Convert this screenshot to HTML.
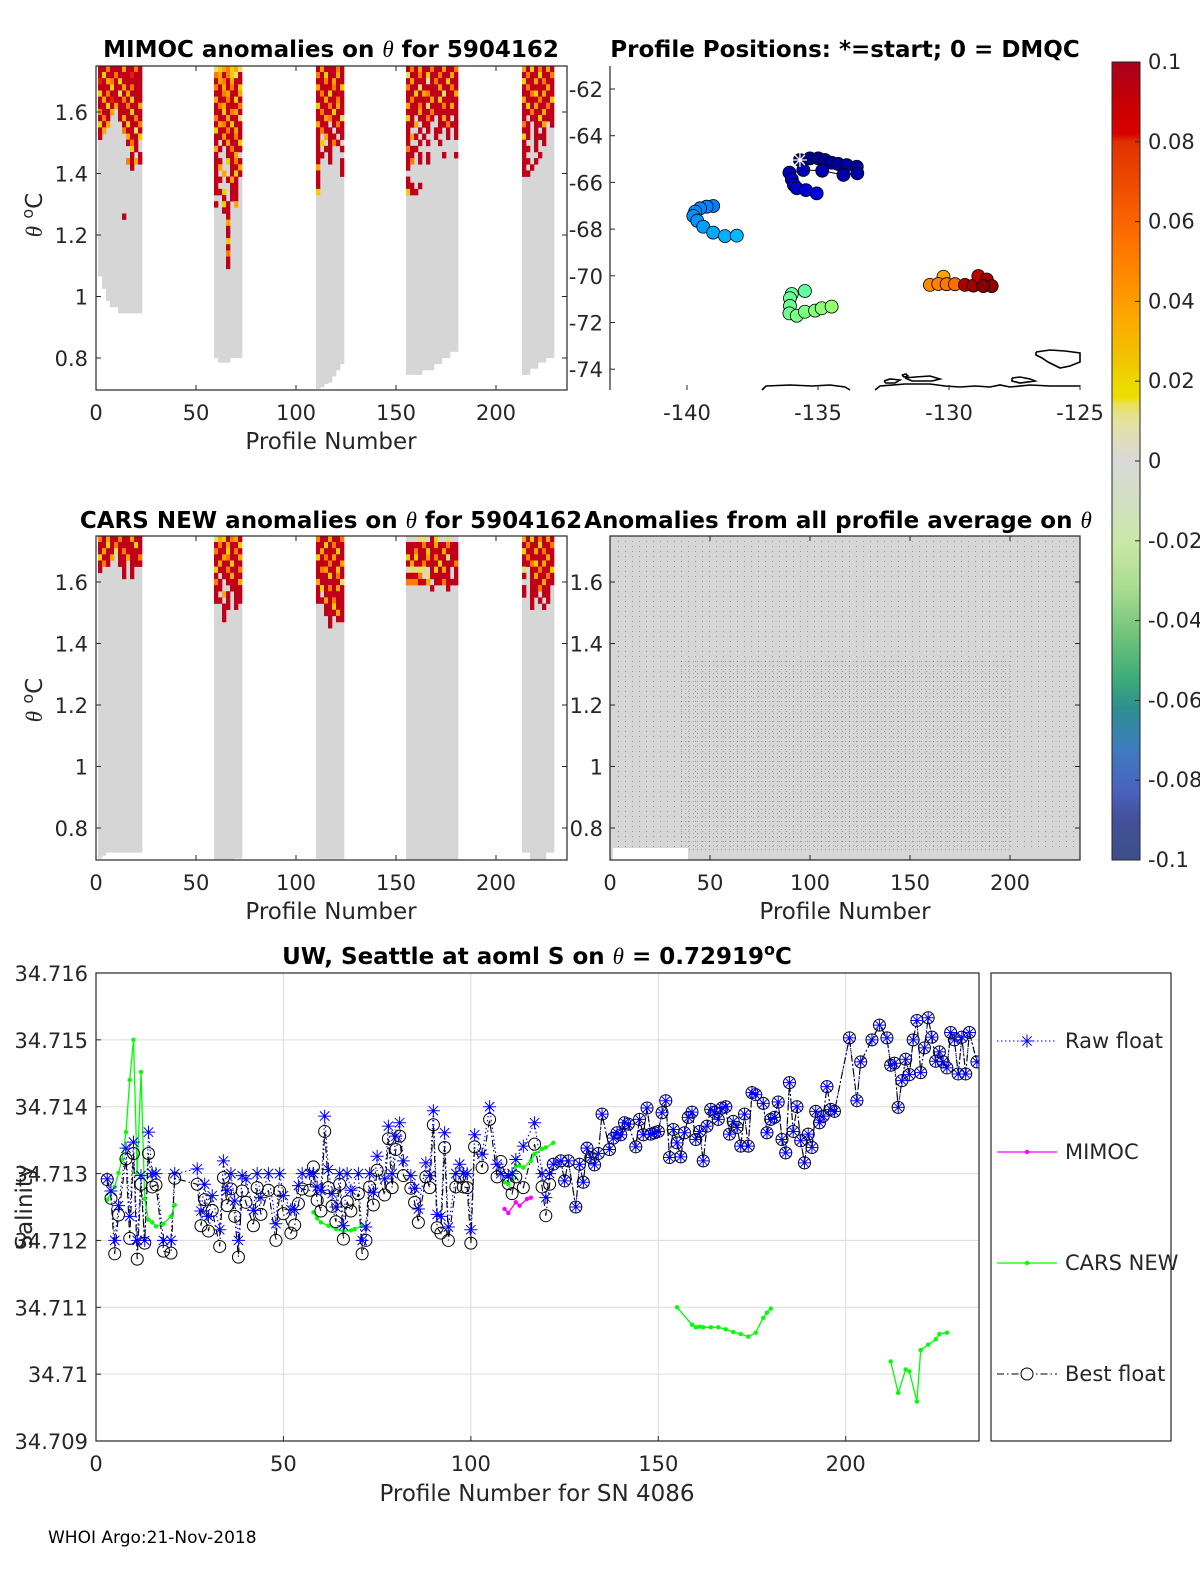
<!DOCTYPE html>
<html><head><meta charset="utf-8"><title>Argo float 5904162 diagnostics</title>
<style>
html,body{margin:0;padding:0;background:#fff;overflow:hidden;}
svg{display:block;font-family:"DejaVu Sans","Liberation Sans",sans-serif;}
.tk{font-size:21px;fill:#262626;}
.ttl{font-size:23px;font-weight:bold;fill:#000;}
.lab{font-size:23px;fill:#262626;}
</style></head>
<body>
<svg id="fig" width="1200" height="1575" viewBox="0 0 1200 1575" xmlns="http://www.w3.org/2000/svg">
<defs>
 <pattern id="dotsSparse" width="7" height="5" patternUnits="userSpaceOnUse"><rect x="2" y="1" width="1" height="1" fill="#000"/></pattern>
 <pattern id="dotsDense" width="4" height="4" patternUnits="userSpaceOnUse"><rect x="1" y="1" width="1" height="1" fill="#000"/></pattern>
 <linearGradient id="cbar" x1="0" y1="0" x2="0" y2="1">
  <stop offset="0" stop-color="#a8001f"/><stop offset="0.06" stop-color="#cc0000"/><stop offset="0.09" stop-color="#d80000"/>
  <stop offset="0.1" stop-color="#e03000"/><stop offset="0.2" stop-color="#fa6400"/><stop offset="0.25" stop-color="#ff8000"/>
  <stop offset="0.32" stop-color="#fca800"/><stop offset="0.38" stop-color="#f0c800"/><stop offset="0.40" stop-color="#ecd800"/>
  <stop offset="0.42" stop-color="#eedd00"/><stop offset="0.43" stop-color="#e8e060"/><stop offset="0.45" stop-color="#e4e2a0"/>
  <stop offset="0.5" stop-color="#d9d9d9"/><stop offset="0.55" stop-color="#d3dfc2"/><stop offset="0.6" stop-color="#cce8a8"/>
  <stop offset="0.66" stop-color="#a8dc90"/><stop offset="0.72" stop-color="#6fc27c"/><stop offset="0.77" stop-color="#3fae78"/>
  <stop offset="0.81" stop-color="#2e8f8f"/><stop offset="0.86" stop-color="#3e7cbf"/><stop offset="0.91" stop-color="#4a63c0"/>
  <stop offset="0.95" stop-color="#44509a"/><stop offset="1" stop-color="#3c5088"/>
 </linearGradient>
 <clipPath id="clipB"><rect x="96" y="973" width="883" height="468"/></clipPath>
</defs>

<text class="ttl" x="331" y="57" text-anchor="middle">MIMOC anomalies on <tspan font-style="italic" font-family="Liberation Serif" font-weight="normal">θ</tspan>  for 5904162</text>
<text class="ttl" x="845" y="57" text-anchor="middle">Profile Positions: *=start; 0 = DMQC</text>
<text class="ttl" x="331" y="528" text-anchor="middle">CARS NEW anomalies on <tspan font-style="italic" font-family="Liberation Serif" font-weight="normal">θ</tspan> for 5904162</text>
<text class="ttl" x="838" y="528" text-anchor="middle">Anomalies from all profile average on <tspan font-style="italic" font-family="Liberation Serif" font-weight="normal">θ</tspan></text>
<text class="ttl" x="537" y="964" text-anchor="middle">UW, Seattle at aoml S on <tspan font-style="italic" font-family="Liberation Serif" font-weight="normal">θ</tspan> = 0.72919<tspan dy="-9" font-size="16">o</tspan><tspan dy="9">C</tspan></text>

<text class="lab" x="331" y="449" text-anchor="middle">Profile Number</text>
<text class="lab" x="331" y="919" text-anchor="middle">Profile Number</text>
<text class="lab" x="845" y="919" text-anchor="middle">Profile Number</text>
<text class="lab" transform="translate(42,215) rotate(-90)" text-anchor="middle"><tspan font-style="italic" font-family="Liberation Serif">θ</tspan> <tspan dy="-9" font-size="16">o</tspan><tspan dy="9">C</tspan></text>
<text class="lab" transform="translate(42,700) rotate(-90)" text-anchor="middle"><tspan font-style="italic" font-family="Liberation Serif">θ</tspan> <tspan dy="-9" font-size="16">o</tspan><tspan dy="9">C</tspan></text>
<text class="lab" transform="translate(553,700) rotate(-90)" text-anchor="middle"><tspan font-style="italic" font-family="Liberation Serif">θ</tspan> <tspan dy="-9" font-size="16">o</tspan><tspan dy="9">C</tspan></text>
<text class="lab" x="537" y="1501" text-anchor="middle">Profile Number for SN 4086</text>
<text class="lab" transform="translate(32,1207) rotate(-90)" text-anchor="middle">Salinity</text>
<text x="48" y="1543" font-size="17" fill="#000">WHOI Argo:21-Nov-2018</text>

<g id="gMimoc"></g>
<g id="gMap"></g>
<g id="gCars"></g>
<g id="gAnom">
 <rect x="610" y="536" width="470" height="324" fill="#d6d6d6"/>
 <rect x="612" y="540" width="466" height="310" fill="url(#dotsSparse)" opacity="0.3"/>
 <rect x="680" y="660" width="330" height="190" fill="url(#dotsDense)" opacity="0.25"/>
 <rect x="613" y="848" width="75" height="12" fill="#fff"/>
</g>
<g id="gCbar">
 <rect x="1112" y="62" width="28" height="798" fill="url(#cbar)" stroke="#262626" stroke-width="1"/>
</g>
<g id="gSal"></g>
<g id="gLeg"></g>
</svg>

<script>
// ===== Heatmap data (θ anomaly cells, one char per 2 profiles, rows of 0.02 °C from 1.75 down) =====
const heatColors = {R:'#c00018', r:'#e02000', o:'#ff7a00', a:'#ffa500', y:'#f0cf00', l:'#e6df70', p:'#e0ddb5'};
const blockStarts = [1, 59, 110, 155, 213];
const mimocBottoms = [
 [1.065,1.025,0.985,0.965,0.965,0.945,0.945,0.945,0.945,0.945,0.945],
 [0.80,0.785,0.785,0.785,0.80,0.80,0.80],
 [0.70,0.705,0.715,0.72,0.74,0.76,0.78],
 [0.745,0.745,0.745,0.745,0.76,0.76,0.76,0.78,0.78,0.80,0.80,0.82,0.82],
 [0.745,0.745,0.765,0.765,0.785,0.785,0.80,0.80]
];
const mimocRows = [
 ["RRoRRRaRRoR","RyRRoRRRrRR","rRaoRyRRRRR","RRRyRRaRoRR","yRoRRlRaRRR","RaRrRRoRyRR","RRyRaRRoRRa","oRRa.RRRyRR","RoR..RaRRoR","yRa...RyRRo","Ra....oRRlR","R......aRRy",".......RoR.","........yR.","........R.R",".......oRaR","........R..","...........","...........","...........","...........","...........","...........","...........","......R...."],
 ["lyaoyal","oaRoylR","RaoRaRR","oRaRoRy","RRoaRRa","aRRoRyR","RoaRRRo","RRyRoaR","oRRaRRl","RaoRyRR","yRRoRaR","RRaRRoR","R.RaRRy","aR.RoRR","R..RRa.","RR.yRoR","Ra..RRa","R.a.RyR","RR.RaR.","R...RR.","RRy.RR.","..R.RR.","R.yR.a.","..RR...","...R...","...a...","...R...","...R...","...y...","...R...","...o...","...R...","...R..."],
 ["RaRRRoR","oRyRRaR","RRoRaRR","aRRRoRy","RoRyRRR","RRaRRoR","yRRoRaR","RoRRyRR","RRaoRRl","aRR.RoR","RoRR.RR","R.aRR.R","Ry.RoR.","R.RR..R","RR.R...","R..R..R","a.....R","R.....R","R......","R......","y......"],
 ["RoRaRRoRRaRRo","lRRoRyRRoRRaR","RaRRRpRoRRyRR","oRRlRRRRaRRoR","RRyRaoRRRlRRa","RoRRRRaRyRRRR","aRRoRlRRRoRaR","RRRaRRoRRRRRR","yR.RRoR.RaR.R","RRa.RR..RRoRR","R..R.R.RR.R.R","RaR.R..R..R.R","R..R.R..R....","oRR..........","RR.R.R...R..R","Ro.R.R.......","R............",".............","R............","RR.R.........","yRR.........."],
 ["aRyRoRaR","RoRRyRRo","yRRaRoRR","RoRRRRaR","RRoyRaRR","aRRRoRRy","RyRaRRoR","RRoRRaRR","R.RRyRRR","oR.RRa.R","RR.R.R..","yR.RRR..","R..R.R..","RR.R....","R...R...","RR.R....","R.R.....","RR......"]
];
const carsBottoms = [
 [0.70,0.71,0.72,0.72,0.72,0.72,0.72,0.72,0.72,0.72,0.72],
 [0.696,0.696,0.696,0.696,0.696,0.70,0.70],
 [0.70,0.70,0.70,0.70,0.70,0.70,0.70],
 [0.696,0.696,0.696,0.696,0.696,0.696,0.696,0.696,0.696,0.696,0.696,0.696,0.696],
 [0.72,0.72,0.696,0.696,0.696,0.696,0.72,0.72]
];
const carsRows = [
 ["oRaRRoRRaRR","RRyRoRRRRyR","RaRRlRoRRRR","yRRa.RRaRRo","RoR..RR.RRR","R.....R.R..","......R.R.."],
 ["layRoaR","RoRaRRy","oRRyRoR","RRaoRRa","RaRRyRR","yRRoRRo","R.RRaRR","oR.RRRa","RR..RRR","R.aR.RR","RR.R.RR","..RR.R.","..R....","..R...."],
 ["oRRaRRo","RRyRoRR","RaRRRyR","yRoRaRR","RRRoRRa","RoaRRyR","RRRyRoR","aRRRRRl","RyRoRaR","R.RRRRR","RRaRoRR","..RRyRR","..RRRaR","...R.RR","...R..."],
 ["...ll.Ry..l..","RRRRoRRaRRoRR","RRoRRyRRRaRRR","yRyRRaRoRRlRR","RaRRoRRRyRRRo","pllll.RyRaR.R","RRRo.lRRRRR.R","oooRRa.RRoRRR","......R...R.."],
 ["aRyRoRaR","RoRRyRRo","yRRaRoRR","RoRRRRaR","RRoyRaRR","l.RRoRRy","R.RaRRoR","..RRRaRR","R.RRoRR.","R.RR.RR.","..R.R.R.","..R..R.."]
];
const thetaTicks = [0.8, 1, 1.2, 1.4, 1.6];
const thetaTickLabels = ["0.8", "1", "1.2", "1.4", "1.6"];
const profileTicks = [0, 50, 100, 150, 200];
const profileTickLabels = ["0", "50", "100", "150", "200"];

// ===== Map data =====
const mapLon = [-135.69,-135.31,-134.99,-134.73,-134.48,-134.23,-133.90,-133.52,-133.50,-134.03,-134.84,-135.56,-136.09,-136.00,-135.92,-135.81,-135.46,-135.05,
 -139.00,-139.25,-139.50,-139.69,-139.76,-139.61,-139.38,-139.00,-138.55,-138.10,
 -135.50,-136.00,-136.07,-136.07,-136.09,-135.81,-135.50,-135.11,-134.86,-134.48,
 -130.21,-130.73,-130.41,-130.09,-129.77,-129.39,-129.07,
 -128.88,-128.56,-128.37,-128.69];
const mapLat = [-65.04,-64.97,-64.97,-65.04,-65.16,-65.21,-65.26,-65.33,-65.61,-65.68,-65.50,-65.47,-65.58,-65.87,-66.11,-66.25,-66.33,-66.47,
 -67.01,-67.04,-67.11,-67.25,-67.44,-67.64,-67.90,-68.15,-68.30,-68.28,
 -70.65,-70.78,-70.96,-71.29,-71.61,-71.71,-71.54,-71.49,-71.39,-71.32,
 -70.04,-70.39,-70.35,-70.36,-70.36,-70.39,-70.42,
 -70.01,-70.16,-70.44,-70.44];
const mapProf = [1,2,3,4,5,6,7,8,9,10,11,12,14,15,16,18,20,22,
 59,60,61,62,63,64,66,68,70,72,
 110,111,112,113,114,116,117,119,120,122,
 168,174,176,178,180,224,228,
 220,226,230,234];
const mapGroups = [18, 10, 10, 7, 4];
const lonTicks = [-140, -135, -130, -125];
const lonTickLabels = ["-140", "-135", "-130", "-125"];
const latTicks = [-62, -64, -66, -68, -70, -72, -74];
const latTickLabels = ["-62", "-64", "-66", "-68", "-70", "-72", "-74"];

// ===== Colorbar ticks =====
const cbTicks = [0.1, 0.08, 0.06, 0.04, 0.02, 0, -0.02, -0.04, -0.06, -0.08, -0.1];
const cbTickLabels = ["0.1", "0.08", "0.06", "0.04", "0.02", "0", "-0.02", "-0.04", "-0.06", "-0.08", "-0.1"];

// ===== Salinity panel data =====
const earlyProf = [3,4,5,6,8,9,10,11,12,13,14,15,16,18,20,21,27,28,29,30,31,33,34,35,36,37,38,39,40,42,43,44,46,48,49,50,52,53,54,55,57,58,59,60,61,62,63,64,65,66,67,68,70,71,72,73,74,75,77,78,79,80,81,82,84,85,86,88,89,90,91,92,93,94,96,97,98,99,100,101,103,105,107,108,110,111,112,114,117,119,120,121];
const earlyRaw = [34.71292,34.71274,34.7120,34.71252,34.71338,34.71236,34.71347,34.7120,34.71297,34.7120,34.71362,34.7130,34.7130,34.7120,34.7120,34.7130,34.71307,34.71244,34.71284,34.71236,34.71267,34.71216,34.71319,34.71275,34.7130,34.71259,34.7120,34.71297,34.71292,34.71245,34.7130,34.71264,34.7130,34.71225,34.7130,34.71267,34.71246,34.71246,34.71282,34.7130,34.7130,34.7130,34.7128,34.71275,34.71386,34.71306,34.7127,34.7125,34.7130,34.71222,34.7130,34.71275,34.7130,34.7120,34.7122,34.7130,34.71272,34.71326,34.71292,34.71371,34.7130,34.71356,34.71376,34.71319,34.71297,34.71278,34.71247,34.71316,34.71297,34.71394,34.71239,34.71236,34.71361,34.7122,34.7130,34.71314,34.7130,34.7130,34.71216,34.71358,34.71329,34.7140,34.71314,34.7130,34.71297,34.7130,34.71321,34.71341,34.71376,34.7130,34.71264,34.7130];
const earlyBest = [34.71291,34.71263,34.7118,34.71238,34.71322,34.71203,34.7133,34.71172,34.71284,34.71196,34.7133,34.7128,34.71283,34.71184,34.71181,34.71293,34.71284,34.71222,34.71261,34.71214,34.71245,34.71191,34.71294,34.71252,34.71277,34.71236,34.71175,34.71274,34.71257,34.71222,34.71279,34.71239,34.71275,34.7120,34.71274,34.7124,34.71211,34.71223,34.71255,34.71277,34.71275,34.7131,34.7126,34.71244,34.71363,34.71279,34.71251,34.71228,34.71284,34.71202,34.71258,34.71244,34.7127,34.7118,34.7120,34.7128,34.71253,34.71305,34.71268,34.71352,34.71279,34.71336,34.71356,34.71297,34.71278,34.71257,34.71227,34.71295,34.71279,34.71373,34.71219,34.71211,34.71339,34.7120,34.7128,34.71295,34.7128,34.71279,34.71196,34.7134,34.71309,34.71381,34.71295,34.71318,34.71285,34.7127,34.71295,34.71279,34.71344,34.7128,34.71237,34.71284];
const lateProf = [122,124,125,126,128,129,130,131,132,133,134,135,137,138,139,140,141,142,144,145,146,147,148,149,150,151,152,153,154,155,156,157,158,159,160,161,162,163,164,165,166,167,168,169,170,171,172,173,174,175,176,178,179,180,181,182,183,184,185,186,187,188,189,190,191,192,193,194,195,196,197,201,203,204,207,209,211,212,213,214,215,216,217,218,219,220,221,222,223,224,225,226,227,228,229,230,231,232,233,235];
const lateVal = [34.71314,34.71319,34.71289,34.71319,34.7125,34.71314,34.71287,34.71338,34.71324,34.71313,34.7133,34.71389,34.71336,34.71353,34.71361,34.71358,34.71376,34.71374,34.7134,34.71381,34.71358,34.71398,34.71359,34.71361,34.71363,34.71391,34.71409,34.71324,34.71366,34.71346,34.71325,34.71361,34.71384,34.71392,34.71351,34.71363,34.71319,34.71371,34.71396,34.71392,34.71381,34.71398,34.714,34.71359,34.71378,34.71369,34.71341,34.71389,34.71341,34.71421,34.71418,34.71405,34.71361,34.71381,34.71384,34.71407,34.71351,34.71331,34.71436,34.71363,34.714,34.71349,34.71316,34.71359,34.71339,34.71393,34.71376,34.71386,34.7143,34.71396,34.71393,34.71503,34.71409,34.71467,34.715,34.71522,34.71503,34.71462,34.71465,34.71399,34.71439,34.71471,34.71448,34.715,34.71529,34.71451,34.71488,34.71533,34.71504,34.71468,34.71482,34.71467,34.71458,34.71511,34.715,34.71449,34.71504,34.71449,34.71511,34.71467];
const carsProf = [3,5,6,7,8,9,10,11,12,13,14,15,16,18,20,21,null,58,59,60,62,64,66,68,69,71,null,109,110,111,112,113,114,116,117,119,120,122,null,155,159,160,161,162,164,166,168,170,172,174,176,178,179,180,null,212,214,216,217,219,220,222,224,225,227];
const carsVal = [34.71261,34.7128,34.71301,34.71321,34.71362,34.7144,34.715,34.7130,34.71452,34.71262,34.71231,34.71227,34.71221,34.71225,34.71236,34.71253,null,34.71242,34.71233,34.71227,34.71222,34.71217,34.71214,34.71215,34.71217,34.71222,null,34.71287,34.71284,34.71292,34.71311,34.71312,34.71309,34.71319,34.71329,34.71337,34.71339,34.71346,null,34.7110,34.71074,34.7107,34.71071,34.7107,34.7107,34.7107,34.71067,34.71063,34.7106,34.71056,34.71062,34.71084,34.71092,34.71098,null,34.71019,34.70972,34.71007,34.71004,34.70959,34.71036,34.71044,34.71052,34.7106,34.71062];
const mimocProf = [109,110,112,113,115,116];
const mimocVal = [34.71247,34.71241,34.71257,34.71252,34.71262,34.71264];
const salTicks = [34.709,34.71,34.711,34.712,34.713,34.714,34.715,34.716];
const salTickLabels = ["34.709","34.71","34.711","34.712","34.713","34.714","34.715","34.716"];
const salProfTicks = [0,50,100,150,200];
const salProfTickLabels = ["0","50","100","150","200"];

const NS = 'http://www.w3.org/2000/svg';
function mk(parent, tag, attrs){ const e=document.createElementNS(NS,tag); for(const k in attrs) e.setAttribute(k,attrs[k]); parent.appendChild(e); return e; }
function txt(parent, x, y, s, anchor, cls){ const t=mk(parent,'text',{x:x,y:y,'text-anchor':anchor,'class':cls||'tk'}); t.textContent=s; return t; }

const xP = p => 96 + p*2.0;
const yT1 = t => 112 + (1.6 - t)*307.5;
const yT2 = t => 582 + (1.6 - t)*307.5;
const xA = p => 610 + p*2.0;
const xLon = l => 687 + (l + 140)*26.2;
const yLat = l => 89 + (-62 - l)*23.35;
const yCb = v => 62 + (0.1 - v)*3990;
const xB = p => 96 + p*3.7485;
const yB = v => 973 + (34.716 - v)*66857;

function drawHeat(g, rowsAll, bottomsAll, yT, prefix){
 for(let b=0;b<rowsAll.length;b++){
  const rows=rowsAll[b], bottoms=bottomsAll[b], s=blockStarts[b];
  for(let c=0;c<bottoms.length;c++){
   const x0=xP(s+2*c), x1=xP(s+2*c+2);
   const col=mk(g,'rect',{x:x0,y:yT(1.75),width:x1-x0+0.3,height:yT(bottoms[c])-yT(1.75),fill:'#d6d6d6'});
   
   
  }
  for(let r=0;r<rows.length;r++){
   for(let c=0;c<rows[r].length && c<bottoms.length;c++){
    const ch=rows[r][c]; if(!heatColors[ch]) continue;
    const x0=xP(s+2*c), x1=xP(s+2*c+2);
    const t0=1.75-0.02*r, t1=t0-0.02;
    const cell=mk(g,'rect',{x:x0,y:yT(t0),width:x1-x0+0.3,height:yT(t1)-yT(t0)+0.3,fill:heatColors[ch]});
    
    
   }
  }
 }
}
function frame(g, x, y, w, h, name){
 const f=mk(g,'rect',{x:x,y:y,width:w,height:h,fill:'none',stroke:'#262626','stroke-width':1.2});
 
 
 return f;
}
function thetaAxis(g, yT, xLeft, xRight, labelX, anchor, name){
 for(let i=0;i<thetaTicks.length;i++){
  const y=yT(thetaTicks[i]);
  const tl=mk(g,'line',{x1:xLeft,y1:y,x2:xLeft+5,y2:y,stroke:'#262626'});
  
  
  const tr=mk(g,'line',{x1:xRight-5,y1:y,x2:xRight,y2:y,stroke:'#262626'});
  
  
  const t=txt(g,labelX,y+8,thetaTickLabels[i],anchor);
  
  
 }
}
function profAxis(g, xf, yTop, yBot, name){
 for(let i=0;i<profileTicks.length;i++){
  const x=xf(profileTicks[i]);
  const l1=mk(g,'line',{x1:x,y1:yBot,x2:x,y2:yBot-5,stroke:'#262626'});
  
  
  const l2=mk(g,'line',{x1:x,y1:yTop,x2:x,y2:yTop+5,stroke:'#262626'});
  
  
  const t=txt(g,x,yBot+30,profileTickLabels[i],'middle');
  
  
 }
}

// ---- MIMOC panel
const gM=document.getElementById('gMimoc');
drawHeat(gM, mimocRows, mimocBottoms, yT1, 'mimoc');
frame(gM,96,66,471,324,'mimoc-axes-box');
thetaAxis(gM, yT1, 96, 567, 88, 'end', 'mimoc-y');
profAxis(gM, xP, 66, 390, 'mimoc-x');

// ---- CARS panel
const gC=document.getElementById('gCars');
drawHeat(gC, carsRows, carsBottoms, yT2, 'cars');
frame(gC,96,536,471,324,'cars-axes-box');
thetaAxis(gC, yT2, 96, 567, 88, 'end', 'cars-y');
profAxis(gC, xP, 536, 860, 'cars-x');

// ---- Anomaly panel axes
const gA=document.getElementById('gAnom');
frame(gA,610,536,470,324,'anomaly-axes-box');
thetaAxis(gA, yT2, 610, 1080, 603, 'end', 'anomaly-y');
profAxis(gA, xA, 536, 860, 'anomaly-x');

// ---- Map panel
const gP=document.getElementById('gMap');
const coastPaths=["762,390 766,386 790,385 812,386 830,385 845,387 850,390","875,390 880,386 905,384 930,384 945,386 960,387 975,386 990,387 1000,385 1010,387 1030,385 1050,386 1080,386","884,381 890,379 900,380 895,383 886,383 884,381","905,378 915,377 930,376 940,379 932,381 912,381 905,378","1012,378 1020,377 1030,379 1035,381 1020,383 1012,381 1012,378","1036,352 1050,350 1065,351 1080,353 1080,362 1070,366 1060,368 1048,362 1042,358 1036,355 1036,352","902,375 906,374 908,376 904,377 902,375"];
for(const pts of coastPaths){
 const cl=mk(gP,'polyline',{points:pts,fill:'none',stroke:'#000','stroke-width':1.6});
 
 
}
function jet(t){ const c=v=>Math.max(0,Math.min(1,v)); const r=c(1.5-Math.abs(4*t-3)), g=c(1.5-Math.abs(4*t-2)), b=c(1.5-Math.abs(4*t-1)); return 'rgb('+Math.round(r*255)+','+Math.round(g*255)+','+Math.round(b*255)+')'; }
let idx=0;
for(let gi=0;gi<mapGroups.length;gi++){
 const pts=[];
 for(let k=0;k<mapGroups[gi];k++) pts.push(xLon(mapLon[idx+k]).toFixed(1)+','+yLat(mapLat[idx+k]).toFixed(1));
 const tr=mk(gP,'polyline',{points:pts.join(' '),fill:'none',stroke:'#000','stroke-width':1});
 
 
 idx+=mapGroups[gi];
}
for(let i=0;i<mapLon.length;i++){
 const c=mk(gP,'circle',{cx:xLon(mapLon[i]),cy:yLat(mapLat[i]),r:6.5,fill:jet(mapProf[i]/235),stroke:'#000','stroke-width':0.8});
 
 
}
{
 const sx=xLon(mapLon[0]), sy=yLat(mapLat[0]);
 const st=mk(gP,'path',{d:`M${sx-7},${sy}H${sx+7}M${sx},${sy-7}V${sy+7}M${sx-5},${sy-5}L${sx+5},${sy+5}M${sx-5},${sy+5}L${sx+5},${sy-5}`,stroke:'#fff','stroke-width':1.3});
 
 
 const axL=mk(gP,'line',{x1:610,y1:66,x2:610,y2:390,stroke:'#262626','stroke-width':1.2});
 
 
}
for(let i=0;i<latTicks.length;i++){
 const y=yLat(latTicks[i]);
 const tl=mk(gP,'line',{x1:610,y1:y,x2:615,y2:y,stroke:'#262626'});
 
 
 const t=txt(gP,603,y+8,latTickLabels[i],'end');
 
 
}
for(let i=0;i<lonTicks.length;i++){
 const x=xLon(lonTicks[i]);
 const tl=mk(gP,'line',{x1:x,y1:390,x2:x,y2:385,stroke:'#262626'});
 
 
 const t=txt(gP,x,420,lonTickLabels[i],'middle');
 
 
}

// ---- Colorbar ticks
const gB=document.getElementById('gCbar');
for(let i=0;i<cbTicks.length;i++){
 const y=yCb(cbTicks[i]);
 const tl=mk(gB,'line',{x1:1135,y1:y,x2:1140,y2:y,stroke:'#262626'});
 
 
 const t=mk(gB,'text',{x:1148,y:y+7,'class':'tk','font-size':'19'});
 t.textContent=cbTickLabels[i];
 
 
}

// ---- Salinity panel
const gS=document.getElementById('gSal');
for(let i=0;i<salTicks.length;i++){
 const y=yB(salTicks[i]);
 const gl=mk(gS,'line',{x1:96,y1:y,x2:979,y2:y,stroke:'#dcdcdc','stroke-width':1});
 
 
 const tl=mk(gS,'line',{x1:96,y1:y,x2:101,y2:y,stroke:'#262626'});
 
 
 const t=txt(gS,88,y+8,salTickLabels[i],'end');
 
 
}
for(let i=0;i<salProfTicks.length;i++){
 const x=xB(salProfTicks[i]);
 const gl=mk(gS,'line',{x1:x,y1:973,x2:x,y2:1441,stroke:'#dcdcdc','stroke-width':1});
 
 
 const tl=mk(gS,'line',{x1:x,y1:1441,x2:x,y2:1436,stroke:'#262626'});
 
 
 const t=txt(gS,x,1471,salProfTickLabels[i],'middle');
 
 
}
const gData=mk(gS,'g',{'clip-path':'url(#clipB)'});



const rawProf=earlyProf.concat(lateProf), rawVal=earlyRaw.concat(lateVal), bestVal=earlyBest.concat(lateVal);
function pathFrom(profs, vals){ let d='', pen=false; for(let i=0;i<profs.length;i++){ if(profs[i]===null){pen=false;continue;} d+=(pen?'L':'M')+xB(profs[i]).toFixed(1)+','+yB(vals[i]).toFixed(1); pen=true; } return d; }
{
 const rl=mk(gData,'path',{d:pathFrom(rawProf,rawVal),fill:'none',stroke:'#0000ff','stroke-width':1.1,'stroke-dasharray':'1.5,2.5'});
 
 
 const bl=mk(gData,'path',{d:pathFrom(rawProf,bestVal),fill:'none',stroke:'#000','stroke-width':1.1,'stroke-dasharray':'7,3,1.5,3'});
 
 
 const cl=mk(gData,'path',{d:pathFrom(carsProf,carsVal),fill:'none',stroke:'#00ff00','stroke-width':1.3});
 
 
 const ml=mk(gData,'path',{d:pathFrom(mimocProf,mimocVal),fill:'none',stroke:'#ff00ff','stroke-width':1.3});
 
 
}
for(let i=0;i<carsProf.length;i++){
 if(carsProf[i]===null) continue;
 const d=mk(gData,'circle',{cx:xB(carsProf[i]),cy:yB(carsVal[i]),r:2.2,fill:'#00ff00'});
 
 
}
for(let i=0;i<mimocProf.length;i++){
 const d=mk(gData,'circle',{cx:xB(mimocProf[i]),cy:yB(mimocVal[i]),r:2.2,fill:'#ff00ff'});
 
 
}
function starPath(x,y,s){ const k=s*0.72; return `M${x-s},${y}H${x+s}M${x},${y-s}V${y+s}M${x-k},${y-k}L${x+k},${y+k}M${x-k},${y+k}L${x+k},${y-k}`; }
for(let i=0;i<rawProf.length;i++){
 const c=mk(gData,'circle',{cx:xB(rawProf[i]),cy:yB(bestVal[i]),r:6,fill:'none',stroke:'#000','stroke-width':1});
 
 
}
for(let i=0;i<rawProf.length;i++){
 const s=mk(gData,'path',{d:starPath(xB(rawProf[i]),yB(rawVal[i]),6.5),stroke:'#0000ff','stroke-width':1,fill:'none'});
 
 
}
frame(gS,96,973,883,468,'salinity-axes-box');

// ---- Legend
const gL=document.getElementById('gLeg');
frame(gL,991,973,180,468,'legend-box');
const legNames=['Raw float','MIMOC','CARS NEW','Best float'];
const legY=[1041,1152,1263,1374];
{
 const l0=mk(gL,'line',{x1:997,y1:legY[0],x2:1057,y2:legY[0],stroke:'#0000ff','stroke-dasharray':'1.5,2.5'});
 
 
 const s0=mk(gL,'path',{d:starPath(1027,legY[0],6.5),stroke:'#0000ff',fill:'none'});
 
 
 const l1=mk(gL,'line',{x1:997,y1:legY[1],x2:1057,y2:legY[1],stroke:'#ff00ff','stroke-width':1.2});
 
 
 const d1=mk(gL,'circle',{cx:1027,cy:legY[1],r:2.2,fill:'#ff00ff'});
 
 
 const l2=mk(gL,'line',{x1:997,y1:legY[2],x2:1057,y2:legY[2],stroke:'#00ff00','stroke-width':1.2});
 
 
 const d2=mk(gL,'circle',{cx:1027,cy:legY[2],r:2.2,fill:'#00ff00'});
 
 
 const l3=mk(gL,'line',{x1:997,y1:legY[3],x2:1057,y2:legY[3],stroke:'#000','stroke-dasharray':'7,3,1.5,3'});
 
 
 const c3=mk(gL,'circle',{cx:1027,cy:legY[3],r:6,fill:'#fff',stroke:'#000'});
 
 
}
for(let i=0;i<legNames.length;i++){
 const t=txt(gL,1065,legY[i]+7,legNames[i],'start');
 
 
}
</script>
</body></html>
